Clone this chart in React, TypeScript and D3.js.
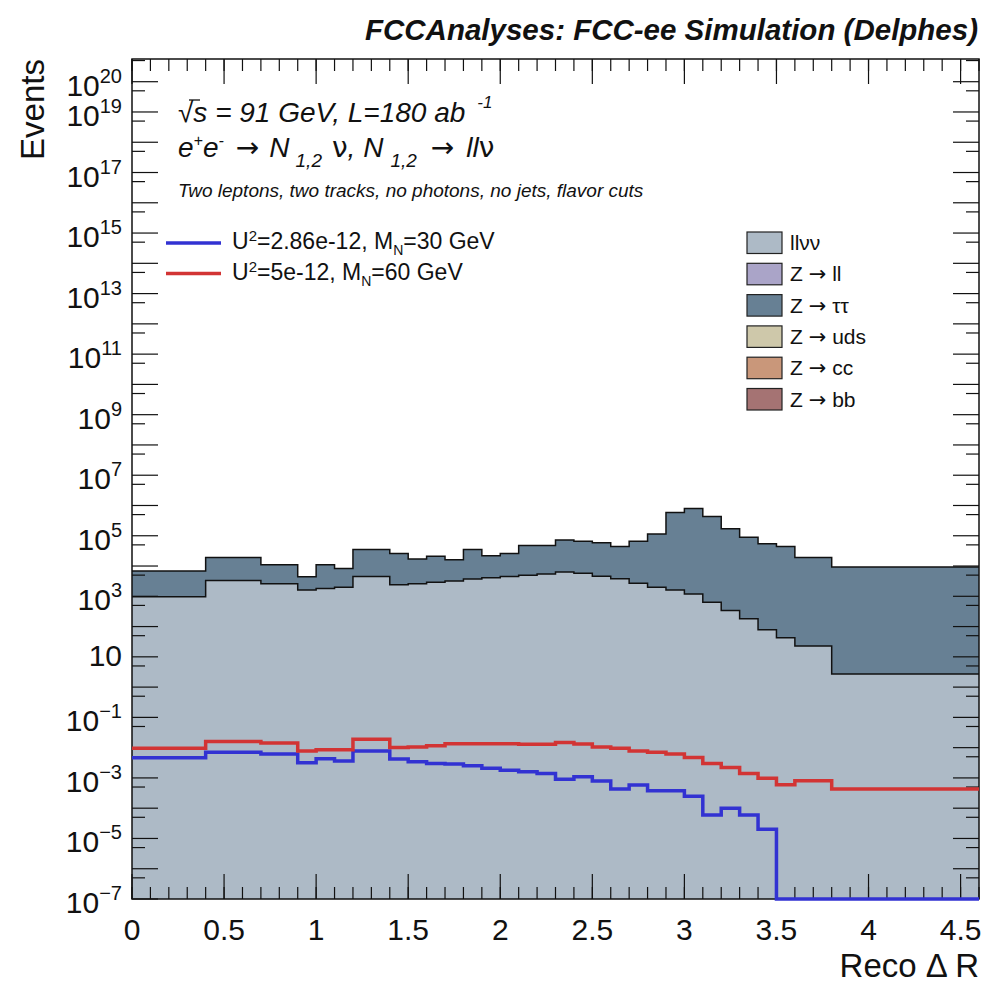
import React from "react";
import * as d3 from "d3";

// variable bin edges of the Reco Delta R histogram
const binEdges = [0, 0.4, 0.7, 0.9, 1.0, 1.1, 1.2, 1.4, 1.5, 1.6, 1.7, 1.8, 1.9, 2.0, 2.1, 2.2, 2.3, 2.4, 2.5, 2.6, 2.7, 2.8, 2.9, 3.0, 3.1, 3.2, 3.3, 3.4, 3.5, 3.6, 3.8, 4.6];

// backgrounds (stacked): llvv at the bottom, Z -> tautau on top
const llvv = [960, 3300, 2600, 1600, 1800, 2000, 4500, 2400, 2600, 2900, 3200, 3700, 4100, 4500, 5000, 5500, 6300, 5800, 4600, 3800, 2700, 2000, 1600, 1200, 630, 340, 182, 78, 43, 23, 2.7];
const zTauTau = [5900, 15700, 8400, 2800, 9200, 6300, 30500, 23600, 14400, 18100, 12800, 31300, 17900, 21500, 43000, 42500, 66700, 60200, 54400, 40200, 63300, 113000, 588000, 789000, 429000, 170000, 89800, 54000, 44000, 19000, 9300];

// signals
const sigM30 = [4.6e-3, 7.1e-3, 6.2e-3, 3.2e-3, 4.3e-3, 3.6e-3, 7.8e-3, 4.2e-3, 3.4e-3, 3.0e-3, 2.9e-3, 2.5e-3, 2.1e-3, 1.8e-3, 1.6e-3, 1.4e-3, 9.1e-4, 1.1e-3, 7.9e-4, 4.3e-4, 5.8e-4, 3.8e-4, 3.8e-4, 2.5e-4, 6.0e-5, 1.0e-4, 6.0e-5, 2.0e-5, 0, 0, 0];
const sigM60 = [9.5e-3, 1.6e-2, 1.43e-2, 7.8e-3, 8.5e-3, 8.5e-3, 1.9e-2, 1.02e-2, 1.06e-2, 1.15e-2, 1.35e-2, 1.35e-2, 1.35e-2, 1.35e-2, 1.3e-2, 1.29e-2, 1.48e-2, 1.32e-2, 1.05e-2, 9.5e-3, 7.8e-3, 7.1e-3, 6.2e-3, 4.7e-3, 3.0e-3, 2.2e-3, 1.4e-3, 9.8e-4, 5.9e-4, 8.1e-4, 4.3e-4];

const signalLabels = [
  { u: "=2.86e-12, M", m: "=30 GeV" },
  { u: "=5e-12, M", m: "=60 GeV" },
];
const bkgLabels = ["llνν", "ll", "ττ", "uds", "cc", "bb"];
const yLabelExps = [20, 19, 17, 15, 13, 11, 9, 7, 5, 3, 1, -1, -3, -5, -7];

const bkgColors = ["#adbac6", "#aaa4c8", "#678094", "#cec8aa", "#c9977a", "#a57373"];
const sigColors = ["#3232d2", "#d23434"];

const W = 984, H = 988;
const frame = { left: 132, right: 979, top: 59, bottom: 899 };
const font = "'Liberation Sans', Arial, Helvetica, sans-serif";
const sym = "'DejaVu Sans', sans-serif";
const yMin = 1e-7, yMax = Math.pow(10, 20.75);

function steps(values: number[]) {
  return values.flatMap((v, i) => [[binEdges[i], v], [binEdges[i + 1], v]] as [number, number][]);
}

export default function App() {
  const x = d3.scaleLinear().domain([0, 4.6]).range([frame.left, frame.right]);
  const y = d3.scaleLog().domain([yMin, yMax]).range([frame.bottom, frame.top]);
  const yc = (v: number) => y(Math.max(v, yMin));

  const total = llvv.map((v, i) => v + zTauTau[i]);
  const lower = steps(llvv);
  const upper = steps(total);

  const area = d3.area<[number, number]>().x(d => x(d[0])).y0(frame.bottom).y1(d => yc(d[1]));
  const band = d3.area<number>()
    .x(i => x(upper[i][0])).y0(i => yc(lower[i][1])).y1(i => yc(upper[i][1]));
  const line = d3.line<[number, number]>().x(d => x(d[0])).y(d => yc(d[1]));
  const idx = d3.range(upper.length);

  const xMinor = x.ticks(46);
  const xMajor = x.ticks(10);
  const yMajor = d3.range(-7, 21).map(e => Math.pow(10, e));
  const yMinor = d3.range(-7, 21).map(e => 5 * Math.pow(10, e)).filter(v => v < yMax);

  return (
    <svg width={W} height={H} style={{ position: "absolute", left: 0, top: 0, background: "#fff" }} fontFamily={font}>
      <path d={area(lower) || ""} fill={bkgColors[0]} />
      <path d={band(idx) || ""} fill={bkgColors[2]} />
      <path d={line(lower) || ""} fill="none" stroke="#111" strokeWidth={1.5} />
      <path d={line(upper) || ""} fill="none" stroke="#111" strokeWidth={1.5} />

      {/* ticks */}
      <g stroke="#111" strokeWidth={1.2}>
        {xMinor.map((t, i) => (
          <g key={"xm" + i}>
            <line x1={x(t)} x2={x(t)} y1={frame.bottom} y2={frame.bottom - 12} />
            <line x1={x(t)} x2={x(t)} y1={frame.top} y2={frame.top + 12} />
          </g>
        ))}
        {xMajor.map((t, i) => (
          <g key={"xM" + i}>
            <line x1={x(t)} x2={x(t)} y1={frame.bottom} y2={frame.bottom - 25} />
            <line x1={x(t)} x2={x(t)} y1={frame.top} y2={frame.top + 25} />
          </g>
        ))}
        {yMajor.map((t, i) => (
          <g key={"yM" + i}>
            <line x1={frame.left} x2={frame.left + 26} y1={y(t)} y2={y(t)} />
            <line x1={frame.right} x2={frame.right - 26} y1={y(t)} y2={y(t)} />
          </g>
        ))}
        {yMinor.map((t, i) => (
          <g key={"ym" + i}>
            <line x1={frame.left} x2={frame.left + 13} y1={y(t)} y2={y(t)} />
            <line x1={frame.right} x2={frame.right - 13} y1={y(t)} y2={y(t)} />
          </g>
        ))}
      </g>
      <rect x={frame.left} y={frame.top} width={frame.right - frame.left} height={frame.bottom - frame.top}
        fill="none" stroke="#111" strokeWidth={1.5} />

      {/* signals */}
      {[sigM30, sigM60].map((s, k) => (
        <path key={"s" + k} d={line(steps(s)) || ""} fill="none" stroke={sigColors[k]} strokeWidth={3.5} />
      ))}

      {/* axis labels */}
      <g fontSize={30} fill="#111">
        {xMajor.map((t, i) => (
          <text key={"xl" + i} x={x(t)} y={940} textAnchor="middle">{d3.format("")(t)}</text>
        ))}
        {yLabelExps.map(e => {
          const ty = y(Math.pow(10, e));
          if (e === 1) return <text key={"yl" + e} x={122} y={ty + 9} textAnchor="end">10</text>;
          return (
            <text key={"yl" + e} x={122} y={ty + 14} textAnchor="end">10
              <tspan dy={-13} fontSize={20}>{e < 0 ? "−" + (-e) : e}</tspan>
            </text>
          );
        })}
      </g>
      <text x={979} y={977} fontSize={33} textAnchor="end" fill="#111">Reco Δ R</text>
      <text transform={`translate(44,${frame.top}) rotate(-90)`} fontSize={33} textAnchor="end" fill="#111">Events</text>
      <text x={978} y={40} fontSize={29.5} fontWeight="bold" fontStyle="italic" textAnchor="end" fill="#111">
        FCCAnalyses: FCC-ee Simulation (Delphes)
      </text>

      {/* info text */}
      <g fill="#111" fontStyle="italic">
        <text x={178} y={122} fontSize={28}>√s = 91 GeV, L=180 ab<tspan dx={12} dy={-14} fontSize={17}>-1</tspan></text>
        <line x1={189} x2={200} y1={100} y2={100} stroke="#111" strokeWidth={1.3} />
        <text x={178} y={157} fontSize={28}>
          e<tspan dy={-11} fontSize={16}>+</tspan><tspan dy={11}>e</tspan><tspan dy={-11} fontSize={16}>-</tspan>
          <tspan dy={11} dx={12} fontStyle="normal" fontFamily={sym}>→</tspan><tspan dx={10}>N</tspan>
          <tspan dy={10} dx={6} fontSize={19}>1,2</tspan>
          <tspan dy={-10} dx={10} fontStyle="normal" fontFamily={sym}>ν</tspan>, N<tspan dy={10} dx={7} fontSize={19}>1,2</tspan>
          <tspan dy={-10} dx={14} fontStyle="normal" fontFamily={sym}>→</tspan><tspan dx={12}>ll</tspan>
          <tspan fontStyle="normal" fontFamily={sym}>ν</tspan>
        </text>
        <text x={178} y={197} fontSize={19}>Two leptons, two tracks, no photons, no jets, flavor cuts</text>
      </g>

      {/* signal legend */}
      {signalLabels.map((s, k) => {
        const ly = 243 + k * 30.6;
        return (
          <g key={"sl" + k}>
            <line x1={166} x2={221} y1={ly} y2={ly} stroke={sigColors[k]} strokeWidth={3.5} />
            <text x={232} y={ly + 6} fontSize={23} fill="#111">U<tspan dy={-8} fontSize={15}>2</tspan>
              <tspan dy={8}>{s.u}</tspan><tspan dy={6} fontSize={14}>N</tspan><tspan dy={-6}>{s.m}</tspan>
            </text>
          </g>
        );
      })}

      {/* background legend */}
      {bkgLabels.map((l, k) => {
        const by = 232 + k * 31.3;
        return (
          <g key={"bl" + k}>
            <rect x={747} y={by} width={35} height={21.5} fill={bkgColors[k]} stroke="#222" strokeWidth={1.2} />
            <text x={790} y={by + 18} fontSize={21} fill="#111">
              {k === 0 ? l : <>Z <tspan fontFamily={sym}>→</tspan> {l}</>}
            </text>
          </g>
        );
      })}
    </svg>
  );
}
